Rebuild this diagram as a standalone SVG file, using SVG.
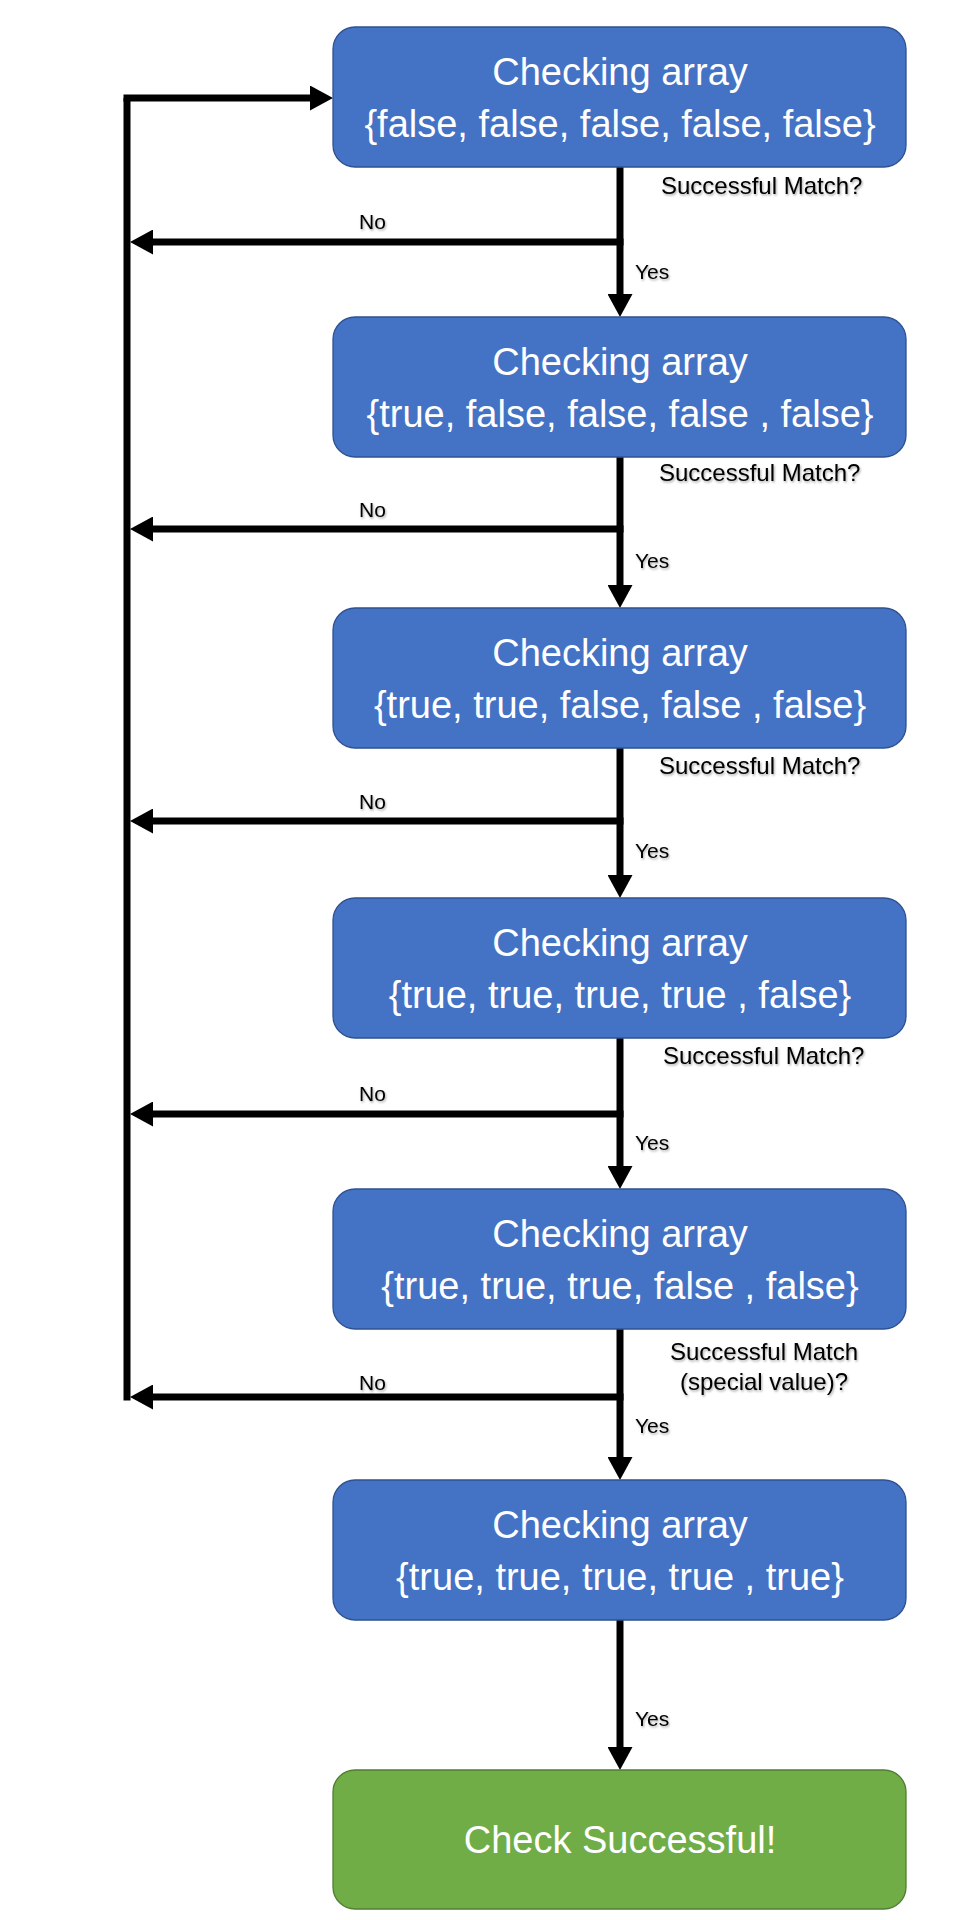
<svg xmlns="http://www.w3.org/2000/svg" width="960" height="1920" viewBox="0 0 960 1920">
  <defs>
    <marker id="ah" markerUnits="userSpaceOnUse" markerWidth="23" markerHeight="25" refX="0" refY="12.5" orient="auto">
      <path d="M0,0 L23,12.5 L0,25 z" fill="#000"/>
    </marker>
    <filter id="sh" x="-10%" y="-20%" width="130%" height="150%">
      <feDropShadow dx="1" dy="1.5" stdDeviation="1" flood-color="#000" flood-opacity="0.35"/>
    </filter>
    <style>
      .box { fill: #4472C4; stroke: #2F528F; stroke-width: 1.3; }
      .ok { fill: #70AD47; stroke: #507E32; stroke-width: 1.3; }
      .bt { font-family: "Liberation Sans", Arial, sans-serif; font-size: 38px; fill: #fff; text-anchor: middle; }
      .lbl { font-family: "Liberation Sans", Arial, sans-serif; font-size: 24px; fill: #000; filter: url(#sh); }
      .yn { font-family: "Liberation Sans", Arial, sans-serif; font-size: 21px; fill: #000; filter: url(#sh); }
      .ln { stroke: #000; stroke-width: 7; fill: none; }
      .arr { stroke: #000; stroke-width: 7; fill: none; marker-end: url(#ah); }
    </style>
  </defs>
  <rect width="960" height="1920" fill="#fff"/>

  <g id="connectors">
    <path class="ln" d="M127,1400.5 L127,98" />
    <line class="arr" x1="123.5" y1="98" x2="310" y2="98"/>
    <line class="arr" x1="620" y1="167" x2="620" y2="294"/>
    <line class="arr" x1="620" y1="457" x2="620" y2="585"/>
    <line class="arr" x1="620" y1="748" x2="620" y2="875"/>
    <line class="arr" x1="620" y1="1038" x2="620" y2="1166"/>
    <line class="arr" x1="620" y1="1329" x2="620" y2="1457"/>
    <line class="arr" x1="620" y1="1620" x2="620" y2="1747"/>
    <line class="arr" x1="623.5" y1="242" x2="153" y2="242"/>
    <line class="arr" x1="623.5" y1="529" x2="153" y2="529"/>
    <line class="arr" x1="623.5" y1="821" x2="153" y2="821"/>
    <line class="arr" x1="623.5" y1="1114" x2="153" y2="1114"/>
    <line class="arr" x1="623.5" y1="1397" x2="153" y2="1397"/>
  </g>

  <g id="labels">
    <text class="lbl" x="661" y="194">Successful Match?</text>
    <text class="yn" x="359" y="229">No</text>
    <text class="yn" x="635" y="279">Yes</text>

    <text class="lbl" x="659" y="481">Successful Match?</text>
    <text class="yn" x="359" y="517">No</text>
    <text class="yn" x="635" y="568">Yes</text>

    <text class="lbl" x="659" y="774">Successful Match?</text>
    <text class="yn" x="359" y="809">No</text>
    <text class="yn" x="635" y="858">Yes</text>

    <text class="lbl" x="663" y="1064">Successful Match?</text>
    <text class="yn" x="359" y="1101">No</text>
    <text class="yn" x="635" y="1150">Yes</text>

    <text class="lbl" x="764" y="1360" text-anchor="middle">Successful Match</text>
    <text class="lbl" x="764" y="1390" text-anchor="middle">(special value)?</text>
    <text class="yn" x="359" y="1390">No</text>
    <text class="yn" x="635" y="1433">Yes</text>

    <text class="yn" x="635" y="1726">Yes</text>
  </g>

  <g id="node1">
    <rect class="box" x="333" y="27" width="573" height="140" rx="22"/>
    <text class="bt" x="620" y="85">Checking array</text>
    <text class="bt" x="620" y="137">{false, false, false, false, false}</text>
  </g>
  <g id="node2">
    <rect class="box" x="333" y="317" width="573" height="140" rx="22"/>
    <text class="bt" x="620" y="375">Checking array</text>
    <text class="bt" x="620" y="427">{true, false, false, false , false}</text>
  </g>
  <g id="node3">
    <rect class="box" x="333" y="608" width="573" height="140" rx="22"/>
    <text class="bt" x="620" y="666">Checking array</text>
    <text class="bt" x="620" y="718">{true, true, false, false , false}</text>
  </g>
  <g id="node4">
    <rect class="box" x="333" y="898" width="573" height="140" rx="22"/>
    <text class="bt" x="620" y="956">Checking array</text>
    <text class="bt" x="620" y="1008">{true, true, true, true , false}</text>
  </g>
  <g id="node5">
    <rect class="box" x="333" y="1189" width="573" height="140" rx="22"/>
    <text class="bt" x="620" y="1247">Checking array</text>
    <text class="bt" x="620" y="1299">{true, true, true, false , false}</text>
  </g>
  <g id="node6">
    <rect class="box" x="333" y="1480" width="573" height="140" rx="22"/>
    <text class="bt" x="620" y="1538">Checking array</text>
    <text class="bt" x="620" y="1590">{true, true, true, true , true}</text>
  </g>
  <g id="node7">
    <rect class="ok" x="333" y="1770" width="573" height="139" rx="22"/>
    <text class="bt" x="620" y="1853">Check Successful!</text>
  </g>
</svg>
